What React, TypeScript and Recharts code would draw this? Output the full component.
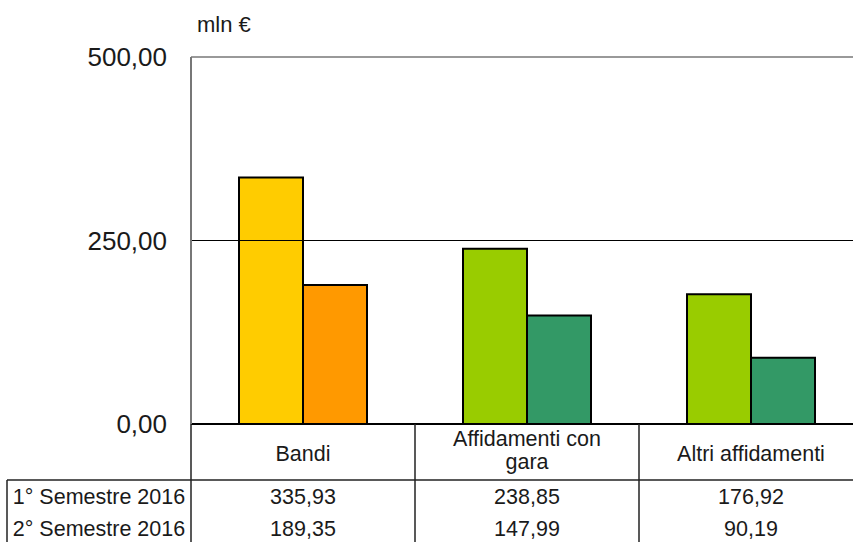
import React from 'react';
import { BarChart, Bar, XAxis, YAxis, ReferenceLine, Cell } from 'recharts';

const categories = ['Bandi', 'Affidamenti con gara', 'Altri affidamenti'];
const categoryLines = [['Bandi'], ['Affidamenti con', 'gara'], ['Altri affidamenti']];
const seriesNames = ['1° Semestre 2016', '2° Semestre 2016'];
const semestre1 = [335.93, 238.85, 176.92];
const semestre2 = [189.35, 147.99, 90.19];
const yTicks = [0, 250, 500];
const colors1 = ['#FFCC00', '#99CC00', '#99CC00'];
const colors2 = ['#FF9900', '#339966', '#339966'];

const data = categories.map((name, i) => ({ name, s1: semestre1[i], s2: semestre2[i] }));

// layout
const CHART_W = 863;
const CHART_H = 542;
const PLOT_LEFT = 191;
const PLOT_TOP = 57;
const BASE_Y = 424;
const ROW_LINE_Y = 480;
const Y_AXIS_W = 100;
const BAND = (CHART_W - PLOT_LEFT) / categories.length;
const FONT = '"Liberation Sans", Arial, sans-serif';
const TEXT = '#1a1a1a';

const fmt = (v: number) => v.toFixed(2).replace('.', ',');

const TableTick = ({ x, index }: any) => {
  const half = BAND / 2;
  const lines = categoryLines[index];
  const labelYs = lines.length === 1 ? [461] : [446, 469];
  return (
    <g fontFamily={FONT} fontSize={21.5} fill={TEXT}>
      {index === 0 && (
        <g>
          <line x1={7} y1={ROW_LINE_Y} x2={CHART_W} y2={ROW_LINE_Y} stroke="#222" strokeWidth={1.5} />
          <line x1={7} y1={ROW_LINE_Y} x2={7} y2={CHART_H} stroke="#222" strokeWidth={1.5} />
          <line x1={PLOT_LEFT} y1={BASE_Y} x2={PLOT_LEFT} y2={CHART_H} stroke="#222" strokeWidth={1.5} />
          <text x={99} y={504} textAnchor="middle">{seriesNames[0]}</text>
          <text x={99} y={536} textAnchor="middle">{seriesNames[1]}</text>
        </g>
      )}
      <line x1={x + half} y1={BASE_Y} x2={x + half} y2={CHART_H} stroke="#222" strokeWidth={1.5} />
      {lines.map((l, i) => (
        <text key={l} x={x} y={labelYs[i]} textAnchor="middle">{l}</text>
      ))}
      <text x={x} y={504} textAnchor="middle">{fmt(semestre1[index])}</text>
      <text x={x} y={536} textAnchor="middle">{fmt(semestre2[index])}</text>
    </g>
  );
};

export default function App() {
  return (
    <div style={{ position: 'fixed', left: 0, top: 0, width: 853, height: 542, overflow: 'hidden', background: '#fff' }}>
      <BarChart
        width={CHART_W}
        height={CHART_H}
        data={data}
        margin={{ top: PLOT_TOP, right: 0, left: PLOT_LEFT - Y_AXIS_W, bottom: 0 }}
        barCategoryGap={48}
        barGap={0}
      >
        <XAxis
          dataKey="name"
          interval={0}
          height={CHART_H - BASE_Y}
          axisLine={{ stroke: '#000', strokeWidth: 2 }}
          tickLine={false}
          tick={<TableTick />}
        />
        <YAxis
          width={Y_AXIS_W}
          domain={[0, 500]}
          ticks={yTicks}
          tickFormatter={fmt}
          axisLine={{ stroke: '#777', strokeWidth: 2 }}
          tickLine={false}
          tickSize={0}
          tickMargin={24}
          tick={{ fontFamily: FONT, fontSize: 26, fill: TEXT }}
          label={{
            content: () => (
              <text x={197} y={32} fontFamily={FONT} fontSize={22} fill={TEXT}>mln €</text>
            ),
          }}
        />
        <ReferenceLine y={250} stroke="#000" strokeWidth={1} />
        <ReferenceLine y={500} stroke="#999" strokeWidth={2} />
        <Bar dataKey="s1" name={seriesNames[0]} stroke="#000" strokeWidth={2} isAnimationActive={false}>
          {data.map((d, i) => (
            <Cell key={d.name} fill={colors1[i]} />
          ))}
        </Bar>
        <Bar dataKey="s2" name={seriesNames[1]} stroke="#000" strokeWidth={2} isAnimationActive={false}>
          {data.map((d, i) => (
            <Cell key={d.name} fill={colors2[i]} />
          ))}
        </Bar>
      </BarChart>
    </div>
  );
}
